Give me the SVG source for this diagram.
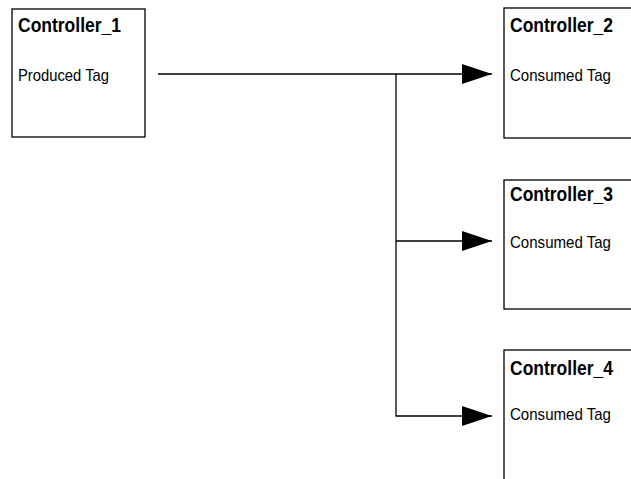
<svg xmlns="http://www.w3.org/2000/svg" width="631" height="479" viewBox="0 0 631 479">
<style>
.box{fill:#fff;stroke:#000;stroke-width:1.3}
.t{font-family:"Liberation Sans",Arial,sans-serif;fill:#000}
.h{font-size:20px;font-weight:bold}
.s{font-size:17px}
.c{fill:none;stroke:#000;stroke-width:1.3}
</style>
<defs>
<marker id="ah" markerWidth="30" markerHeight="20" refX="30" refY="10" orient="auto" markerUnits="userSpaceOnUse">
<path d="M0,0 L30,10 L0,20 Z" fill="#000"/>
</marker>
</defs>
<rect width="631" height="479" fill="#fff"/>
<g id="controller1">
<rect class="box" x="12" y="9" width="133" height="128"/>
<text class="t h" x="18" y="32" textLength="103" lengthAdjust="spacingAndGlyphs">Controller_1</text>
<text class="t s" x="18" y="81" textLength="91" lengthAdjust="spacingAndGlyphs">Produced Tag</text>
</g>
<g id="controller2">
<rect class="box" x="504" y="8" width="140" height="130"/>
<text class="t h" x="510" y="32" textLength="103" lengthAdjust="spacingAndGlyphs">Controller_2</text>
<text class="t s" x="510" y="81" textLength="101" lengthAdjust="spacingAndGlyphs">Consumed Tag</text>
</g>
<g id="controller3">
<rect class="box" x="504" y="180" width="140" height="129"/>
<text class="t h" x="510" y="201" textLength="103" lengthAdjust="spacingAndGlyphs">Controller_3</text>
<text class="t s" x="510" y="248" textLength="101" lengthAdjust="spacingAndGlyphs">Consumed Tag</text>
</g>
<g id="controller4">
<rect class="box" x="504" y="350" width="140" height="140"/>
<text class="t h" x="510" y="375" textLength="103" lengthAdjust="spacingAndGlyphs">Controller_4</text>
<text class="t s" x="510" y="420" textLength="101" lengthAdjust="spacingAndGlyphs">Consumed Tag</text>
</g>
<g id="connectors">
<path class="c" d="M158,74 H492" marker-end="url(#ah)"/>
<path class="c" d="M396,74 V416 H492" marker-end="url(#ah)"/>
<path class="c" d="M396,241 H492" marker-end="url(#ah)"/>
</g>
</svg>
